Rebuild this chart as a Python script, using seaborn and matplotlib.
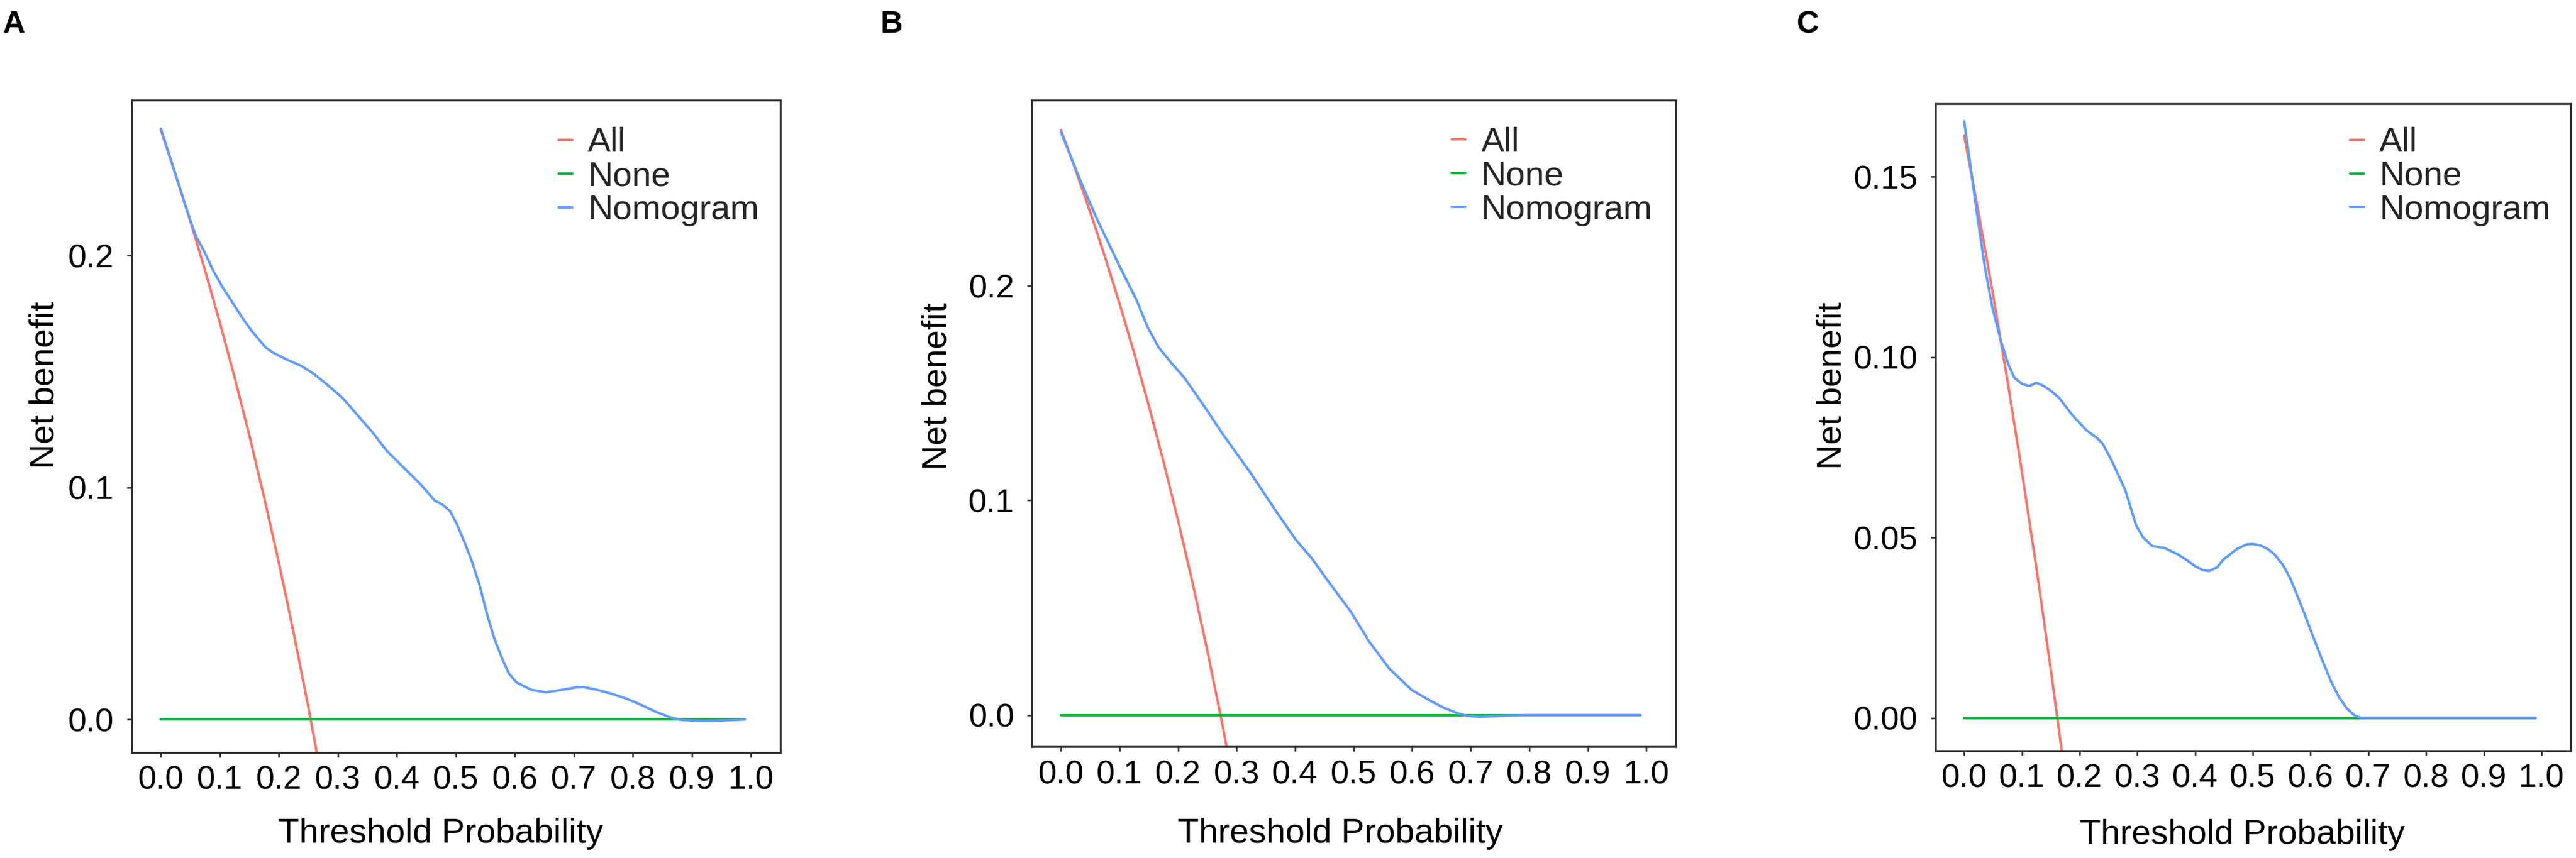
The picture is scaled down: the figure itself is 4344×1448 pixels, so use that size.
import numpy as np
import pandas as pd
import matplotlib
matplotlib.use("Agg")
import matplotlib.pyplot as plt
from matplotlib.lines import Line2D
import seaborn as sns

# ---------------- data ----------------
models = ["All", "None", "Nomogram"]
palette = {"All": "#F8766D", "None": "#00BA38", "Nomogram": "#619CFF"}

none_t = [0.0, 0.99]
none_nb = [0.0, 0.0]

# Panel A
A_all_t = [0.0, 0.025, 0.05, 0.075, 0.10, 0.125, 0.15, 0.175, 0.20, 0.225, 0.25, 0.275]
A_all_nb = [0.254, 0.2349, 0.2147, 0.1935, 0.1711, 0.1474, 0.1224, 0.0958, 0.0675, 0.0374, 0.0053, -0.0290]
A_nomo_t = [0.0, 0.025, 0.05, 0.06, 0.072, 0.089, 0.103, 0.117, 0.139, 0.153, 0.177, 0.189,
            0.214, 0.239, 0.261, 0.283, 0.308, 0.333, 0.358, 0.383, 0.412, 0.441, 0.464,
            0.477, 0.490, 0.502, 0.515, 0.527, 0.540, 0.553, 0.565, 0.578, 0.590, 0.603,
            0.628, 0.653, 0.678, 0.703, 0.716, 0.739, 0.764, 0.790, 0.815, 0.840, 0.865,
            0.883, 0.912, 0.948, 0.990]
A_nomo_nb = [0.2547, 0.2347, 0.2150, 0.2080, 0.2025, 0.1934, 0.1870, 0.1815, 0.1728, 0.1678,
             0.1605, 0.1583, 0.1551, 0.1523, 0.1487, 0.1441, 0.1386, 0.1313, 0.1240, 0.1158,
             0.1085, 0.1012, 0.0944, 0.0927, 0.0899, 0.0841, 0.0762, 0.0683, 0.0581, 0.0453,
             0.0351, 0.0266, 0.0198, 0.0160, 0.0128, 0.0117, 0.0127, 0.0138, 0.0140, 0.0128,
             0.0111, 0.0089, 0.0062, 0.0032, 0.0008, -0.0002, -0.0006, -0.0005, 0.0]

# Panel B
B_all_t = [0.0, 0.025, 0.05, 0.075, 0.10, 0.125, 0.15, 0.175, 0.20, 0.225, 0.25, 0.275, 0.30]
B_all_nb = [0.2725, 0.2538, 0.2342, 0.2135, 0.1917, 0.1686, 0.1441, 0.1182, 0.0906, 0.0613,
            0.0300, -0.0034, -0.0393]
B_nomo_t = [0.0, 0.031, 0.059, 0.098, 0.129, 0.148, 0.167, 0.191, 0.210, 0.245, 0.276, 0.323,
            0.366, 0.401, 0.429, 0.460, 0.495, 0.526, 0.561, 0.599, 0.630, 0.654, 0.677,
            0.693, 0.716, 0.755, 0.800, 0.990]
B_nomo_nb = [0.2715, 0.2504, 0.2324, 0.2102, 0.1933, 0.1807, 0.1712, 0.1632, 0.1574, 0.1437,
             0.1310, 0.1131, 0.0955, 0.0817, 0.0728, 0.0610, 0.0482, 0.0344, 0.0216, 0.0117,
             0.0068, 0.0034, 0.0009, -0.0003, -0.0009, -0.0003, 0.0, 0.0]

# Panel C
C_all_t = [0.0, 0.025, 0.05, 0.075, 0.10, 0.125, 0.15, 0.175]
C_all_nb = [0.1615, 0.1400, 0.1174, 0.0935, 0.0683, 0.0417, 0.0135, -0.0164]
C_nomo_t = [0.0, 0.012, 0.023, 0.036, 0.049, 0.063, 0.076, 0.087, 0.100, 0.113, 0.125, 0.138,
            0.149, 0.164, 0.188, 0.212, 0.230, 0.240, 0.255, 0.279, 0.298, 0.310, 0.326,
            0.347, 0.369, 0.387, 0.400, 0.413, 0.424, 0.438, 0.449, 0.473, 0.490, 0.500,
            0.513, 0.526, 0.537, 0.552, 0.565, 0.577, 0.590, 0.603, 0.618, 0.636, 0.650,
            0.663, 0.676, 0.687, 0.990]
C_nomo_nb = [0.1654, 0.1518, 0.1389, 0.1249, 0.1137, 0.1049, 0.0982, 0.0943, 0.0926, 0.0920,
             0.0929, 0.0920, 0.0908, 0.0888, 0.0838, 0.0797, 0.0776, 0.0760, 0.0715, 0.0632,
             0.0533, 0.0500, 0.0476, 0.0471, 0.0454, 0.0436, 0.0420, 0.0410, 0.0407, 0.0417,
             0.0439, 0.0469, 0.0481, 0.0482, 0.0478, 0.0468, 0.0454, 0.0424, 0.0386, 0.0339,
             0.0286, 0.0231, 0.0169, 0.0099, 0.0055, 0.0026, 0.0007, 0.0, 0.0]

x_ticks = [0.0, 0.1, 0.2, 0.3, 0.4, 0.5, 0.6, 0.7, 0.8, 0.9, 1.0]
x_ticklabels = ["0.0", "0.1", "0.2", "0.3", "0.4", "0.5", "0.6", "0.7", "0.8", "0.9", "1.0"]
A_yticks = [0.0, 0.1, 0.2]
A_yticklabels = ["0.0", "0.1", "0.2"]
B_yticks = [0.0, 0.1, 0.2]
B_yticklabels = ["0.0", "0.1", "0.2"]
C_yticks = [0.0, 0.05, 0.10, 0.15]
C_yticklabels = ["0.00", "0.05", "0.10", "0.15"]
panel_letters = ["A", "B", "C"]
x_label = "Threshold Probability"
y_label = "Net benefit"

# ---------------- style ----------------
sns.set_theme(style="white")
plt.rcParams["font.family"] = ["Liberation Sans", "DejaVu Sans"]

fig = plt.figure(figsize=(14.48, 4.8267), dpi=300)

panels = [
    dict(rect=[0.05101, 0.12320, 0.25189, 0.76008], all_t=A_all_t, all_nb=A_all_nb,
         nomo_t=A_nomo_t, nomo_nb=A_nomo_nb, ylim=(-0.01415, 0.267),
         yticks=A_yticks, yticklabels=A_yticklabels, leg=(0.658, 0.959),
         xlab=(0.4765, -0.100), ylab=(-0.109, 0.563), letter_x=5),
    dict(rect=[0.40051, 0.12956, 0.24998, 0.75373], all_t=B_all_t, all_nb=B_all_nb,
         nomo_t=B_nomo_t, nomo_nb=B_nomo_nb, ylim=(-0.0148, 0.2864),
         yticks=B_yticks, yticklabels=B_yticklabels, leg=(0.652, 0.959),
         xlab=(0.4796, -0.1096), ylab=(-0.1214, 0.558), letter_x=1485),
    dict(rect=[0.75127, 0.12507, 0.24657, 0.75380], all_t=C_all_t, all_nb=C_all_nb,
         nomo_t=C_nomo_t, nomo_nb=C_nomo_nb, ylim=(-0.0091, 0.1702),
         yticks=C_yticks, yticklabels=C_yticklabels, leg=(0.6526, 0.9646),
         xlab=(0.483, -0.1055), ylab=(-0.1375, 0.564), letter_x=3030),
]

for p, letter in zip(panels, panel_letters):
    ax = fig.add_axes(p["rect"])
    df = pd.concat([
        pd.DataFrame({"threshold": p["all_t"], "net_benefit": p["all_nb"], "model": "All"}),
        pd.DataFrame({"threshold": none_t, "net_benefit": none_nb, "model": "None"}),
        pd.DataFrame({"threshold": p["nomo_t"], "net_benefit": p["nomo_nb"], "model": "Nomogram"}),
    ], ignore_index=True)
    sns.lineplot(data=df, x="threshold", y="net_benefit", hue="model", hue_order=models,
                 palette=palette, estimator=None, sort=False, linewidth=1.0,
                 legend=False, ax=ax)
    ax.set_xlim(-0.05, 1.05)
    ax.set_ylim(*p["ylim"])
    ax.set_xticks(x_ticks)
    ax.set_xticklabels(x_ticklabels)
    ax.set_yticks(p["yticks"])
    ax.set_yticklabels(p["yticklabels"])
    ax.grid(False)
    for s in ax.spines.values():
        s.set_visible(True)
        s.set_color("#333333")
        s.set_linewidth(0.8)
    ax.tick_params(axis="both", which="major", direction="out", length=2.0, width=0.65,
                   color="#333333", labelsize=13.4, labelcolor="black")
    ax.tick_params(axis="x", pad=3.3, bottom=True)
    ax.tick_params(axis="y", pad=5.0, left=True)

    ax.set_xlabel(x_label, fontsize=14, color="black")
    ax.set_ylabel(y_label, fontsize=14, color="black")
    ax.xaxis.set_label_coords(*p["xlab"])
    ax.yaxis.set_label_coords(*p["ylab"])

    handles = [Line2D([0], [0], color=palette[m], linewidth=1.0) for m in models]
    ax.legend(handles, models, loc="upper left", bbox_to_anchor=p["leg"],
              frameon=False, fontsize=14, handlelength=0.4, handletextpad=0.45,
              labelspacing=0.05, borderpad=0, borderaxespad=0)

    fig.text(p["letter_x"] / 4344, 1 - 55 / 1448, letter, fontsize=12.5,
             fontweight="bold", ha="left", va="baseline", color="black")

fig.savefig("out.png", dpi=300, facecolor="white")
